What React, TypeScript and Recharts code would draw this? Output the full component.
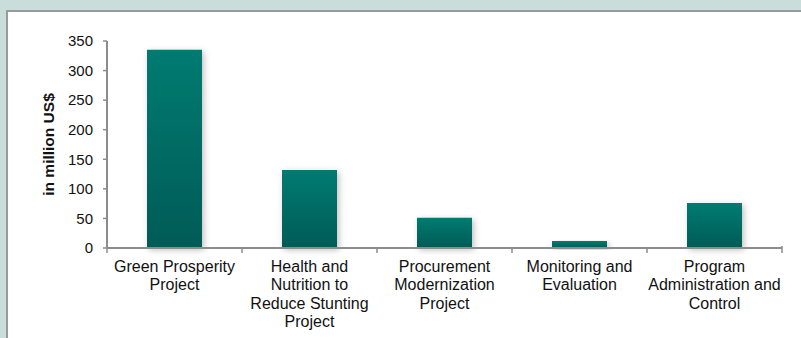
import { BarChart, Bar, XAxis, YAxis } from 'recharts';

const categories = [
  'Green Prosperity\nProject',
  'Health and\nNutrition to\nReduce Stunting\nProject',
  'Procurement\nModernization\nProject',
  'Monitoring and\nEvaluation',
  'Program\nAdministration and\nControl',
];
const funding = [335, 132, 51, 12, 76];
const yTicks = [0, 50, 100, 150, 200, 250, 300, 350];

const AXIS = '#8c8c8c';
const FONT = '"Liberation Sans", Arial, sans-serif';

const chartData = categories.map((name, i) => ({ name, value: funding[i] }));

// multi-line category label plus the boundary tick marks
function CategoryTick(props: any) {
  const { x, y, payload, index, visibleTicksCount } = props;
  const lines = String(payload.value).split('\n');
  const half = payload.offset ?? 67.5;
  const isLast = index === visibleTicksCount - 1;
  return (
    <g>
      <line x1={x - half} x2={x - half} y1={y} y2={y + 5} stroke={AXIS} strokeWidth={1.5} />
      {isLast && (
        <line x1={x + half} x2={x + half} y1={y - 2} y2={y + 5} stroke={AXIS} strokeWidth={1.5} />
      )}
      <text x={x} y={y + 24} textAnchor="middle" fontSize={16} fill="#111" fontFamily={FONT}>
        {lines.map((l, i) => (
          <tspan key={i} x={x} dy={i === 0 ? 0 : 18.3}>
            {l}
          </tspan>
        ))}
      </text>
    </g>
  );
}

function YLabel(props: any) {
  const { viewBox } = props;
  const cx = viewBox.x + 48;
  const cy = viewBox.y + viewBox.height / 2;
  return (
    <text
      x={cx}
      y={cy}
      transform={`rotate(-90, ${cx}, ${cy})`}
      textAnchor="middle"
      dominantBaseline="central"
      fontSize={15.5}
      fontWeight="bold"
      fill="#111"
      fontFamily={FONT}
    >
      in million US$
    </text>
  );
}

export default function App() {
  return (
    <div
      style={{
        position: 'fixed',
        left: 0,
        top: 0,
        width: 801,
        height: 338,
        background: '#c9dedb',
        fontFamily: FONT,
      }}
    >
      <div
        style={{
          position: 'absolute',
          left: 6,
          top: 10,
          right: 0,
          bottom: 0,
          background: '#fff',
          borderLeft: '2px solid #9a9a9a',
          borderTop: '2px solid #9a9a9a',
        }}
      />
      <div style={{ position: 'absolute', left: 0, top: 0 }}>
        <BarChart
          width={801}
          height={338}
          data={chartData}
          margin={{ top: 41, right: 19, bottom: 0, left: 0 }}
        >
          <defs>
            <linearGradient id="barFill" x1="0" y1="0" x2="0" y2="1">
              <stop offset="0%" stopColor="#037b71" />
              <stop offset="100%" stopColor="#035b56" />
            </linearGradient>
            <filter id="barShadow" x="-30%" y="-10%" width="160%" height="130%">
              <feDropShadow dx="2" dy="2" stdDeviation="3" floodColor="#000" floodOpacity="0.25" />
            </filter>
          </defs>
          <XAxis
            dataKey="name"
            height={90}
            interval={0}
            tickSize={0}
            tickMargin={0}
            tickLine={false}
            axisLine={{ stroke: AXIS, strokeWidth: 2 }}
            tick={<CategoryTick />}
          />
          <YAxis
            width={107}
            domain={[0, 350]}
            ticks={yTicks}
            interval={0}
            tickSize={4}
            tickMargin={10}
            axisLine={{ stroke: AXIS, strokeWidth: 2 }}
            tickLine={{ stroke: AXIS, strokeWidth: 1.5 }}
            tick={{ fontSize: 15, fill: '#111', fontFamily: FONT }}
            label={<YLabel />}
          />
          <Bar
            dataKey="value"
            barSize={55}
            fill="url(#barFill)"
            filter="url(#barShadow)"
            isAnimationActive={false}
          />
        </BarChart>
      </div>
    </div>
  );
}
